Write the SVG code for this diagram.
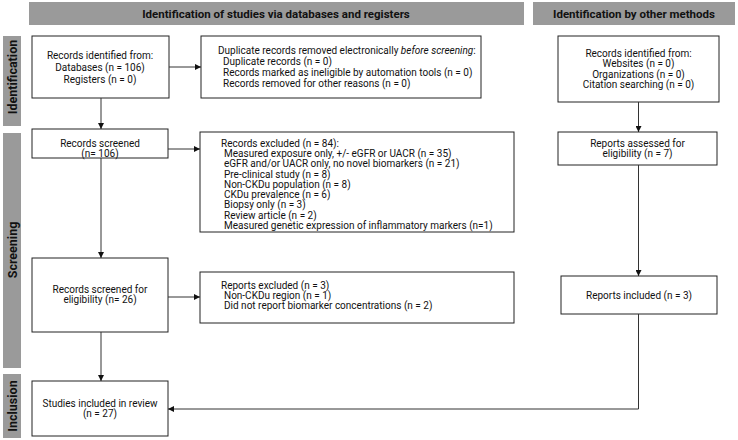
<svg xmlns="http://www.w3.org/2000/svg" width="738" height="440" viewBox="0 0 738 440">
<defs>
<marker id="ah" viewBox="0 0 6 6" refX="6" refY="3" markerWidth="6" markerHeight="6" markerUnits="userSpaceOnUse" orient="auto">
<path d="M0,0 L6,3 L0,6 z" fill="#111"/>
</marker>
<style>
.box{fill:#fff;stroke:#222;stroke-width:1}
.hdr{fill:#9a9a9a}
.side{fill:#9a9a9a}
.t{font-family:Roboto,"Liberation Sans",sans-serif;font-size:10px;fill:#111}
.c{text-anchor:middle}
.h{font-family:Roboto,"Liberation Sans",sans-serif;font-size:11.5px;font-weight:bold;fill:#111;text-anchor:middle}
.s{font-family:Roboto,"Liberation Sans",sans-serif;font-size:12.5px;font-weight:bold;fill:#111;text-anchor:middle}
.conn{fill:none;stroke:#333;stroke-width:1}
</style>
</defs>
<rect width="738" height="440" fill="#fff"/>
<g id="header-databases"><rect class="hdr" x="29" y="2" width="495" height="23"/><text class="h" x="276" y="18">Identification of studies via databases and registers</text></g>
<g id="header-other"><rect class="hdr" x="533" y="2" width="202" height="23"/><text class="h" x="634" y="18">Identification by other methods</text></g>
<g id="side-identification"><rect class="side" x="3" y="36" width="18" height="90"/><text class="s" transform="translate(17,77) rotate(-90)">Identification</text></g>
<g id="side-screening"><rect class="side" x="3" y="133" width="18" height="235"/><text class="s" transform="translate(17,250) rotate(-90)">Screening</text></g>
<g id="side-inclusion"><rect class="side" x="3" y="374" width="18" height="64"/><text class="s" transform="translate(17,406) rotate(-90)">Inclusion</text></g>

<g id="records-identified"><rect class="box" x="32" y="36" width="137" height="62"/>
<text class="t c" x="100" y="58.6">Records identified from:</text>
<text class="t c" x="100" y="70.6">Databases (n = 106)</text>
<text class="t c" x="100" y="82.6">Registers (n = 0)</text></g>

<g id="duplicates-removed"><rect class="box" x="201" y="36" width="280" height="62"/>
<text class="t" x="218" y="53.6">Duplicate records removed electronically <tspan font-style="italic">before screening</tspan>:</text>
<text class="t" x="223" y="64.6">Duplicate records (n = 0)</text>
<text class="t" x="223" y="75.6">Records marked as ineligible by automation tools (n = 0)</text>
<text class="t" x="223" y="86.6">Records removed for other reasons (n = 0)</text></g>

<g id="other-records"><rect class="box" x="558" y="36" width="161" height="66"/>
<text class="t c" x="638.5" y="56.6">Records identified from:</text>
<text class="t c" x="638.5" y="67.2">Websites (n = 0)</text>
<text class="t c" x="638.5" y="77.8">Organizations (n = 0)</text>
<text class="t c" x="638.5" y="88.4">Citation searching (n = 0)</text></g>

<g id="records-screened"><rect class="box" x="32" y="129" width="136" height="29"/>
<text class="t c" x="100" y="146.6">Records screened</text>
<text class="t c" x="100" y="157.2">(n= 106)</text></g>

<g id="records-excluded"><rect class="box" x="200" y="132" width="314" height="100"/>
<text class="t" x="221" y="146.6">Records excluded (n = 84):</text>
<text class="t" x="224" y="156.9">Measured exposure only, +/- eGFR or UACR (n = 35)</text>
<text class="t" x="224" y="167.2">eGFR and/or UACR only, no novel biomarkers (n = 21)</text>
<text class="t" x="224" y="177.5">Pre-clinical study (n = 8)</text>
<text class="t" x="224" y="187.8">Non-CKDu population (n = 8)</text>
<text class="t" x="224" y="198.1">CKDu prevalence (n = 6)</text>
<text class="t" x="224" y="208.4">Biopsy only (n = 3)</text>
<text class="t" x="224" y="218.7">Review article (n = 2)</text>
<text class="t" x="224" y="229">Measured genetic expression of inflammatory markers (n=1)</text></g>

<g id="reports-assessed"><rect class="box" x="558" y="132" width="159" height="33"/>
<text class="t c" x="637.5" y="146.6">Reports assessed for</text>
<text class="t c" x="637.5" y="157.2">eligibility (n = 7)</text></g>

<g id="screened-eligibility"><rect class="box" x="32" y="258" width="136" height="74"/>
<text class="t c" x="100" y="292.6">Records screened for</text>
<text class="t c" x="100" y="303.4">eligibility (n= 26)</text></g>

<g id="reports-excluded"><rect class="box" x="200" y="272" width="314" height="51"/>
<text class="t" x="221" y="288.6">Reports excluded (n = 3)</text>
<text class="t" x="224" y="298.8">Non-CKDu region (n = 1)</text>
<text class="t" x="224" y="309">Did not report biomarker concentrations (n = 2)</text></g>

<g id="reports-included"><rect class="box" x="561" y="276" width="156" height="38"/>
<text class="t c" x="639" y="298.6">Reports included (n = 3)</text></g>

<g id="studies-included"><rect class="box" x="32" y="381" width="136" height="55"/>
<text class="t c" x="100" y="406.6">Studies included in review</text>
<text class="t c" x="100" y="417.4">(n = 27)</text></g>

<g id="connectors">
<path class="conn" d="M169,67 H201" marker-end="url(#ah)"/>
<path class="conn" d="M101,98 V129" marker-end="url(#ah)"/>
<path class="conn" d="M168,149 H200" marker-end="url(#ah)"/>
<path class="conn" d="M101,158 V258" marker-end="url(#ah)"/>
<path class="conn" d="M168,297 H200" marker-end="url(#ah)"/>
<path class="conn" d="M101,332 V381" marker-end="url(#ah)"/>
<path class="conn" d="M638.5,102 V132" marker-end="url(#ah)"/>
<path class="conn" d="M638.5,165 V276" marker-end="url(#ah)"/>
<path class="conn" d="M638.5,314 V409 H168" marker-end="url(#ah)"/>
</g>
</svg>
